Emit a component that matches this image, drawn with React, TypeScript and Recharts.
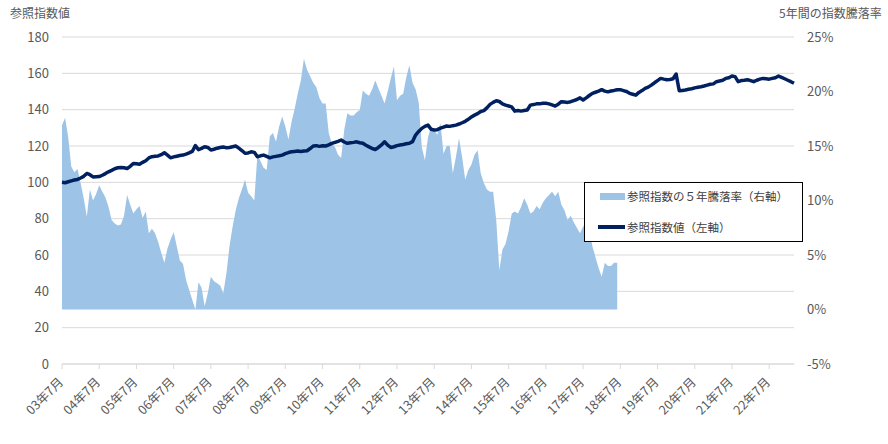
import React from 'react';
import { ComposedChart, Area, Line, XAxis, YAxis, CartesianGrid } from 'recharts';

const FONT = '"Noto Sans CJK JP", "Noto Sans", sans-serif';

// 参照指数値（左軸） monthly, 2003/07 .. 2023/03
const indexValues: number[] = [
  100, 99.8, 100.3, 100.8, 101.3, 101.6, 102.4, 103.3, 104.9, 104.2, 103, 103.1,
  103.2, 103.9, 104.8, 105.8, 106.6, 107.5, 108, 108.2, 108, 107.6, 108.8, 110.4,
  110.2, 110, 111, 111.9, 113.4, 114.1, 114.3, 114.5, 115.2, 116.3, 115, 113.5,
  114, 114.4, 114.8, 115, 115.5, 116.2, 117, 120.2, 118, 118.7, 119.6, 119.2,
  117.8, 118.2, 118.8, 119.2, 119.5, 119, 119.2, 119.6, 120, 118.8, 117.5, 116,
  116.2, 116.8, 116.5, 114.1, 114.6, 115, 114.3, 113.5, 114, 114.3, 114.6, 115,
  115.8, 116.4, 116.8, 117, 117.2, 117, 117.2, 117.4, 118.6, 120, 120.2, 119.8,
  120.1, 120, 120.6, 121.4, 122, 122.6, 123.3, 122.2, 121.5, 121.8, 122, 122.3,
  121.8, 121.5, 120.4, 119.5, 118.6, 118.1, 119.2, 120.6, 122.3, 120.5, 119.2, 119.6,
  120.2, 120.5, 120.8, 121.2, 121.5, 122.4, 126, 128, 129.7, 130.8, 131.5, 129.2,
  128.8, 129, 129.8, 130.4, 131, 130.8, 131.2, 131.5, 132.1, 132.8, 133.6, 134.7,
  136, 137, 137.8, 139, 139.5, 141, 142.9, 144, 144.9, 144.5, 143.2, 142.5,
  142, 141.5, 139.2, 139.5, 139.2, 139.5, 139.8, 142.5, 142.8, 143.2, 143.2, 143.5,
  143.5, 143.2, 142.6, 142, 143, 144.4, 144.2, 144, 144.4, 145, 145.6, 146.5,
  145.3, 146.5, 147.8, 149, 149.6, 150.2, 151, 150.2, 149.8, 150.3, 150.6, 151,
  151, 150.5, 150, 149, 148.5, 148, 149.5, 150.5, 151.7, 152.4, 153.5, 154.8,
  156, 157.2, 156.8, 156.5, 156.6, 157, 159.6, 150.4, 150.6, 150.8, 151.2, 151.5,
  152, 152.3, 152.6, 153, 153.5, 154, 154.2, 155.4, 155.8, 156.2, 157.2, 157.6,
  158.5, 158.2, 155.4, 156, 156.2, 156.5, 156, 155.4, 156.2, 156.8, 157.2, 157,
  156.8, 157.2, 157.6, 158.5, 157.8, 157, 156.2, 155.4, 154.5,
];

// 参照指数の５年騰落率（右軸, %） monthly, 2003/07 .. 2018/06
const rateValues: number[] = [
  16.9, 17.6, 15.8, 13.1, 12.6, 12.9, 11.6, 10.2, 8.5, 11.0, 10.0, 10.6,
  11.4, 10.8, 10.3, 9.4, 8.2, 7.9, 7.7, 7.8, 8.6, 10.5, 9.6, 8.8,
  9.2, 9.5, 8.4, 9.0, 7.0, 7.4, 7.0, 6.2, 5.2, 4.3, 5.6, 6.4,
  7.1, 5.8, 4.5, 4.2, 2.7, 1.8, 0.9, 0.0, 2.5, 2.0, 0.3, 1.5,
  3.0, 2.6, 2.4, 2.2, 1.5, 3.3, 5.8, 7.6, 9.1, 10.2, 11.0, 11.9,
  10.7, 10.4, 10.0, 14.2, 13.6, 13.0, 12.8, 15.9, 16.2, 15.4, 16.8, 17.7,
  16.8, 15.6, 17.2, 18.4, 19.8, 21.0, 23.0, 22.0, 21.4, 20.8, 20.4, 19.4,
  18.9, 18.9, 16.2, 15.2, 14.9, 14.2, 13.9, 16.5, 18.0, 17.8, 17.8, 18.1,
  18.3, 20.1, 19.8, 19.6, 20.2, 21.0, 20.3, 19.6, 18.9, 20.0, 21.2, 22.3,
  19.2, 19.6, 19.8, 21.3, 22.4, 20.8, 20.2, 19.0, 14.9, 13.7, 15.8, 16.8,
  16.5, 16.0, 17.1, 14.3, 15.0, 15.0, 12.5, 14.0, 15.7, 14.0, 11.9, 12.8,
  13.3, 14.2, 14.6, 12.5, 11.6, 11.0, 10.8, 10.8, 8.2, 3.6, 5.5, 6.0,
  7.2, 8.8, 9.0, 8.8, 9.4, 10.2, 9.6, 8.8, 9.0, 9.5, 9.2, 9.8,
  10.2, 10.5, 10.8, 10.4, 10.8, 9.6, 9.1, 8.2, 8.6, 8.0, 7.5, 7.0,
  7.6, 8.0, 7.4, 5.8, 4.8, 3.8, 3.0, 4.3, 4.0, 4.0, 4.3, 4.3,
];

const leftTicks: number[] = [0, 20, 40, 60, 80, 100, 120, 140, 160, 180];
const rightTicks: number[] = [-5, 0, 5, 10, 15, 20, 25];

const START_YEAR = 2003;
const START_MONTH = 7;
const months: string[] = indexValues.map((_, i) => {
  const m = START_MONTH - 1 + i;
  const y = START_YEAR + Math.floor(m / 12);
  const mo = (m % 12) + 1;
  return `${String(y % 100).padStart(2, '0')}年${mo}月`;
});

const data = months.map((month, i) => ({
  month,
  value: indexValues[i],
  rate: i < rateValues.length ? rateValues[i] : null,
}));

const LEFT_TITLE = '参照指数値';
const RIGHT_TITLE = '5年間の指数騰落率';
const LEGEND_AREA = '参照指数の５年騰落率（右軸）';
const LEGEND_LINE = '参照指数値（左軸）';

const AREA_COLOR = '#9dc3e6';
const LINE_COLOR = '#002060';
const TEXT_COLOR = '#595959';

const XTick = (props: any) => {
  const { x, y, payload } = props;
  return (
    <g transform={`translate(${x + 2},${y + 12})`}>
      <text textAnchor="end" transform="rotate(-45)" fill={TEXT_COLOR} fontSize={12.5} fontFamily={FONT}>
        {payload.value}
      </text>
    </g>
  );
};

export default function App() {
  return (
    <div style={{ position: 'absolute', left: 0, top: 0, width: 888, height: 444, background: '#fff', fontFamily: FONT }}>
      <ComposedChart width={888} height={444} data={data} margin={{ top: 37, right: 0, bottom: 0, left: 0 }}>
        <CartesianGrid yAxisId="left" vertical={false} stroke="#d9d9d9" />
        <XAxis
          dataKey="month"
          interval={11}
          height={80}
          tick={<XTick />}
          tickSize={5}
          tickLine={{ stroke: '#d9d9d9' }}
          axisLine={{ stroke: '#d9d9d9' }}
        />
        <YAxis
          yAxisId="left"
          domain={[0, 180]}
          ticks={leftTicks}
          width={62}
          axisLine={false}
          tickLine={false}
          tickMargin={7}
          tick={{ fill: TEXT_COLOR, fontSize: 13, fontFamily: FONT }}
        />
        <YAxis
          yAxisId="right"
          orientation="right"
          domain={[-5, 25]}
          ticks={rightTicks}
          width={94}
          axisLine={false}
          tickLine={false}
          tickMargin={7}
          tickFormatter={(v: number) => `${v}%`}
          tick={{ fill: TEXT_COLOR, fontSize: 13, fontFamily: FONT, textAnchor: 'start' }}
        />
        <Area
          yAxisId="right"
          dataKey="rate"
          type="linear"
          fill={AREA_COLOR}
          fillOpacity={1}
          stroke="none"
          baseValue={0}
          isAnimationActive={false}
        />
        <Line
          yAxisId="left"
          dataKey="value"
          type="linear"
          stroke={LINE_COLOR}
          strokeWidth={3.5}
          strokeLinejoin="round"
          dot={false}
          isAnimationActive={false}
        />
      </ComposedChart>
      <div style={{ position: 'absolute', left: 10, top: 4, fontSize: 12, lineHeight: '17px', color: TEXT_COLOR, whiteSpace: 'nowrap' }}>
        {LEFT_TITLE}
      </div>
      <div style={{ position: 'absolute', left: 779, top: 4, fontSize: 12, lineHeight: '17px', color: TEXT_COLOR, whiteSpace: 'nowrap' }}>
        {RIGHT_TITLE}
      </div>
      <div
        style={{
          position: 'absolute',
          left: 584,
          top: 182,
          width: 219,
          height: 60,
          border: '1px solid #000',
          background: '#fff',
          boxSizing: 'border-box',
        }}
      >
        <div style={{ position: 'absolute', left: 15, top: 10, width: 25, height: 7, background: AREA_COLOR }} />
        <div style={{ position: 'absolute', left: 42, top: 6, fontSize: 11.5, lineHeight: '15px', color: '#404040', whiteSpace: 'nowrap' }}>
          {LEGEND_AREA}
        </div>
        <div style={{ position: 'absolute', left: 13, top: 42, width: 27, height: 4, background: LINE_COLOR }} />
        <div style={{ position: 'absolute', left: 42, top: 37, fontSize: 11.5, lineHeight: '15px', color: '#404040', whiteSpace: 'nowrap' }}>
          {LEGEND_LINE}
        </div>
      </div>
    </div>
  );
}
